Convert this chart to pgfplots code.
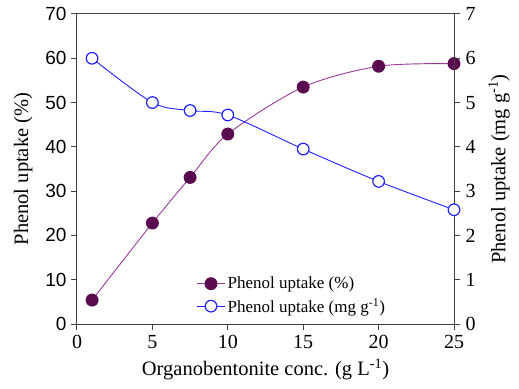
\documentclass[border=0pt]{standalone}
\usepackage{pgfplots}
\pgfplotsset{compat=1.18}
\usepackage{fontspec}
\setmainfont{Liberation Serif}
\newfontfamily\tickfont{Liberation Sans}
\definecolor{pur}{HTML}{5A0A4E}
\definecolor{purl}{HTML}{9A3A98}
\definecolor{blu}{HTML}{2020FF}
\definecolor{axc}{HTML}{404040}
\begin{document}
\begin{tikzpicture}
\begin{axis}[
  scale only axis, width=377pt, height=310pt,
  xmin=0, xmax=25, ymin=0, ymax=70,
  xtick={0,5,10,15,20,25}, ytick={0,10,...,70},
  xtick pos=bottom, ytick pos=left, tick align=outside,
  major tick length=6pt,
  /pgf/number format/assume math mode=true,
  axis line style={axc, line width=1pt},
  every tick/.style={axc, line width=1pt},
  x tick label style={font=\fontsize{20}{20}\selectfont, yshift=-2pt},
  y tick label style={font=\fontsize{19}{19}\tickfont, xshift=-1pt},
  xlabel={Organobentonite conc. (g L\textsuperscript{-1})},
  ylabel={Phenol uptake (\%)},
  label style={font=\fontsize{20.5}{20.5}\selectfont},
  xlabel style={yshift=-3pt},
  ylabel style={yshift=6pt},
  legend style={at={(0.308,0.165)}, anchor=north west, draw=none, fill=none,
    font=\fontsize{17}{17}\selectfont, row sep=4pt,
    legend cell align=left},
  legend image code/.code={\draw[mark repeat=2,mark phase=2,#1] plot coordinates {(0cm,0cm)(0.5cm,0cm)(1cm,0cm)};},
]
\addplot[purl, line width=0.9pt, smooth, mark=*, mark size=6pt,
  mark options={fill=pur, draw=pur}] coordinates {
  (1,5.4) (5,22.8) (7.5,33.1) (10,42.9) (15,53.5) (20,58.2) (25,58.8)};
\addlegendentry{Phenol uptake (\%)}
\addlegendimage{blu, line width=0.9pt, mark=*, mark size=5.8pt, mark options={fill=white, draw=blu, line width=1.2pt}}
\addlegendentry{Phenol uptake (mg g\textsuperscript{-1})}
\end{axis}
\begin{axis}[
  scale only axis, width=377pt, height=310pt,
  xmin=0, xmax=25, ymin=0, ymax=7,
  axis x line=none, axis y line*=right,
  ytick={0,1,...,7}, tick align=outside,
  major tick length=6pt,
  /pgf/number format/assume math mode=true,
  axis line style={axc, line width=1pt, -},
  every tick/.style={axc, line width=1pt},
  y tick label style={font=\fontsize{20}{20}\selectfont, xshift=2pt},
  ylabel={Phenol uptake (mg g\textsuperscript{-1})},
  label style={font=\fontsize{20.5}{20.5}\selectfont},
  ylabel style={yshift=-6pt},
]
\addplot[blu, line width=0.9pt, smooth, mark=*, mark size=5.8pt,
  mark options={fill=white, draw=blu, line width=1.2pt}] coordinates {
  (1,6.0) (5,5.0) (7.5,4.82) (10,4.72) (15,3.95) (20,3.22) (25,2.58)};
\end{axis}
\pgfresetboundingbox
\path[use as bounding box] (-77pt,-64pt) rectangle (442pt,324pt);
\end{tikzpicture}
\end{document}
